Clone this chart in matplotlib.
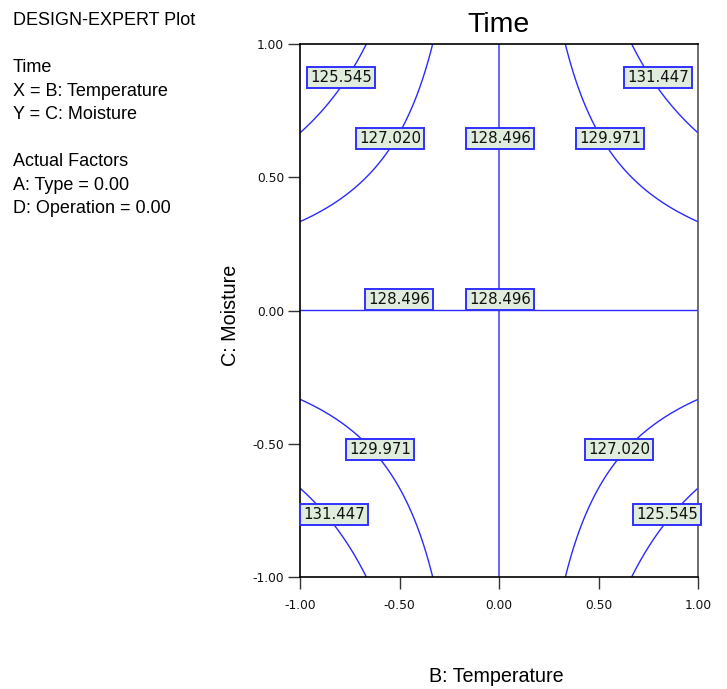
import numpy as np
import matplotlib
matplotlib.use("Agg")
import matplotlib.pyplot as plt

plt.rcParams['font.family'] = ['Liberation Sans', 'DejaVu Sans']

# ---- data ----
title = "Time"
x_label = "B: Temperature"
y_label = "C: Moisture"
info_lines = ["DESIGN-EXPERT Plot", "", "Time", "X = B: Temperature", "Y = C: Moisture",
              "", "Actual Factors", "A: Type = 0.00", "D: Operation = 0.00"]
tick_values = [-1.00, -0.50, 0.00, 0.50, 1.00]
tick_labels = ["-1.00", "-0.50", "0.00", "0.50", "1.00"]
contour_levels = [125.545, 127.020, 128.496, 129.971, 131.447]
# fitted response-surface model (coded units): Time = b0 + bBC * B * C
model_intercept = 128.496
model_bc = 4.4265
label_texts = ["125.545", "127.020", "128.496", "129.971", "131.447",
               "128.496", "128.496",
               "129.971", "127.020", "131.447", "125.545"]

# label placement (data coordinates)
label_pos = [(-0.794, 0.876), (-0.548, 0.644), (0.005, 0.644), (0.558, 0.644), (0.799, 0.876),
             (-0.503, 0.041), (0.005, 0.041),
             (-0.598, -0.52), (0.603, -0.52), (-0.829, -0.764), (0.844, -0.764)]

W, H = 727, 689
fig = plt.figure(figsize=(W / 100, H / 100), dpi=100)
ax = fig.add_axes([300 / W, 1 - 577 / H, 398 / W, 533 / H])

b = np.linspace(-1, 1, 400)
c = np.linspace(-1, 1, 400)
BB, CC = np.meshgrid(b, c)
ZZ = model_intercept + model_bc * BB * CC

ax.contour(BB, CC, ZZ, levels=contour_levels, colors='#2a2aff', linewidths=1.0)

num_font = ['DejaVu Sans']
for txt, (px, py) in zip(label_texts, label_pos):
    ax.text(px, py, txt, ha='center', va='center', fontsize=10.8, color='#111111',
            family=num_font,
            bbox=dict(boxstyle='square,pad=0.2', facecolor='#e0ecdc', edgecolor='#3030ff', linewidth=1.4),
            zorder=5)

ax.set_xlim(-1, 1)
ax.set_ylim(-1, 1)
ax.set_xticks(tick_values)
ax.set_xticklabels(tick_labels, family=num_font)
ax.set_yticks(tick_values)
ax.set_yticklabels(tick_labels, family=num_font)
ax.tick_params(axis='both', direction='out', length=8.5, width=1.0, color='#333333',
               labelsize=8.8, labelcolor='#111111')
ax.tick_params(axis='x', pad=7)
ax.tick_params(axis='y', pad=3)
for s in ['left', 'bottom', 'top']:
    ax.spines[s].set_color('black')
    ax.spines[s].set_linewidth(1.2)
ax.spines['right'].set_color('#555555')
ax.spines['right'].set_linewidth(1.2)

fig.text(499 / W, 1 - 31.5 / H, title, ha='center', va='baseline', fontsize=20.5, color='black')
fig.text(496.5 / W, 1 - 681.5 / H, x_label, ha='center', va='baseline', fontsize=14.2, color='black')
fig.text(231 / W, 1 - 315 / H, y_label, ha='center', va='center', rotation=90, fontsize=14.2, color='black')

baselines = [25, None, 72, 96, 119, None, 166, 190, 213]
for line, yb in zip(info_lines, baselines):
    if line and yb is not None:
        fig.text(13 / W, 1 - yb / H, line, ha='left', va='baseline', fontsize=13, color='black')

fig.savefig("out.png", dpi=100)
